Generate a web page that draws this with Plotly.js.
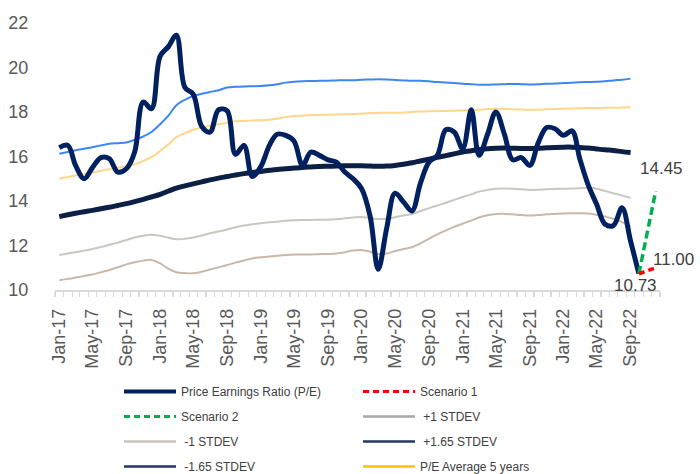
<!DOCTYPE html>
<html>
<head>
<meta charset="utf-8">
<script src="https://cdn.plot.ly/plotly-3.0.1.min.js"></script>
<style>html,body{margin:0;padding:0;background:#fff;}#chart{width:700px;height:474px;}</style>
</head>
<body>
<div id="chart"></div>
<script>
// Monthly categories Jan-17 .. Dec-22
const months = [];
for (let i = 0; i < 72; i++) {
  const yr = 2017 + Math.floor(i / 12), mo = (i % 12) + 1;
  months.push(yr + '-' + String(mo).padStart(2, '0') + '-01');
}
const tickMonths = months.filter((m, i) => i % 4 === 0 && i <= 68);

// Price Earnings Ratio (P/E), Jan-17 .. Oct-22
const pe = [16.4, 16.5, 15.6, 15.0, 15.5, 15.95, 15.9, 15.3, 15.45, 16.2, 18.45, 18.15,
  20.5, 20.95, 21.45, 19.1, 18.8, 17.35, 17.1, 18.1, 18.05, 16.1, 16.5, 15.1,
  15.55, 16.5, 17.0, 16.95, 16.7, 15.6, 16.2, 16.05, 15.85, 15.75, 15.3, 15.0,
  14.55, 13.3, 10.93, 12.8, 14.35, 13.95, 13.55, 14.8, 15.75, 16.05, 17.2, 17.1,
  16.35, 18.1, 16.05, 17.0, 18.0, 17.0, 15.85, 15.95, 15.6, 16.6, 17.3, 17.25,
  16.95, 17.15, 15.9, 14.7, 13.85, 12.95, 12.9, 13.7, 12.2, 10.73];

// P/E Average 5 years, Jan-17 .. Sep-22
const avg5y = [13.30, 13.38, 13.45, 13.52, 13.58, 13.65, 13.72, 13.80, 13.88, 13.97, 14.07, 14.18,
  14.30, 14.45, 14.58, 14.68, 14.77, 14.86, 14.95, 15.03, 15.10, 15.17, 15.23, 15.28,
  15.33, 15.38, 15.42, 15.45, 15.48, 15.51, 15.53, 15.55, 15.56, 15.57, 15.58, 15.58,
  15.58, 15.57, 15.56, 15.57, 15.60, 15.65, 15.72, 15.80, 15.88, 15.96, 16.04, 16.12,
  16.20, 16.26, 16.31, 16.35, 16.37, 16.38, 16.37, 16.36, 16.36, 16.37, 16.39, 16.41,
  16.42, 16.42, 16.40, 16.38, 16.34, 16.30, 16.27, 16.22, 16.18];

// +1 STDEV
const plus1 = [15.0, 15.08, 15.15, 15.22, 15.28, 15.35, 15.43, 15.5, 15.56, 15.65, 15.8, 15.97,
  16.25, 16.55, 16.87, 17.05, 17.2, 17.3, 17.38, 17.45, 17.52, 17.58, 17.6, 17.62,
  17.63, 17.65, 17.7, 17.77, 17.82, 17.84, 17.86, 17.87, 17.88, 17.89, 17.9, 17.91,
  17.93, 17.95, 17.96, 17.97, 17.97, 17.98, 18.0, 18.02, 18.03, 18.04, 18.05, 18.06,
  18.07, 18.08, 18.1, 18.13, 18.15, 18.14, 18.12, 18.11, 18.1, 18.1, 18.12, 18.14,
  18.15, 18.16, 18.17, 18.18, 18.18, 18.19, 18.19, 18.2, 18.2];

// +1.65 STDEV
const plus165 = [16.12, 16.2, 16.28, 16.35, 16.42, 16.5, 16.57, 16.6, 16.63, 16.75, 16.9, 17.1,
  17.45, 17.85, 18.3, 18.55, 18.72, 18.82, 18.9, 18.98, 19.1, 19.13, 19.15, 19.16,
  19.17, 19.2, 19.25, 19.32, 19.36, 19.38, 19.39, 19.4, 19.41, 19.42, 19.43, 19.43,
  19.45, 19.46, 19.47, 19.46, 19.44, 19.42, 19.4, 19.4, 19.38, 19.35, 19.33, 19.3,
  19.27, 19.25, 19.23, 19.22, 19.24, 19.25, 19.26, 19.25, 19.24, 19.25, 19.27, 19.28,
  19.3, 19.32, 19.34, 19.35, 19.36, 19.38, 19.42, 19.45, 19.5];

// -1 STDEV
const minus1 = [11.57, 11.64, 11.7, 11.77, 11.84, 11.93, 12.03, 12.13, 12.25, 12.36, 12.44, 12.48,
  12.44, 12.35, 12.28, 12.3, 12.36, 12.45, 12.55, 12.63, 12.72, 12.82, 12.9, 12.95,
  13.0, 13.04, 13.07, 13.11, 13.14, 13.15, 13.15, 13.16, 13.16, 13.18, 13.22, 13.26,
  13.28, 13.24, 13.19, 13.2, 13.27, 13.35, 13.42, 13.55, 13.68, 13.8, 13.92, 14.05,
  14.18, 14.3, 14.42, 14.5, 14.55, 14.56, 14.55, 14.53, 14.5, 14.51, 14.53, 14.54,
  14.55, 14.56, 14.57, 14.59, 14.55, 14.45, 14.35, 14.25, 14.14];

// -1.65 STDEV
const minus165 = [10.44, 10.5, 10.56, 10.63, 10.7, 10.8, 10.9, 11.02, 11.15, 11.25, 11.32, 11.35,
  11.2, 10.95, 10.8, 10.76, 10.75, 10.82, 10.92, 11.02, 11.12, 11.23, 11.33, 11.42,
  11.47, 11.51, 11.54, 11.57, 11.59, 11.6, 11.6, 11.61, 11.62, 11.64, 11.7, 11.78,
  11.8, 11.72, 11.62, 11.64, 11.75, 11.84, 11.92, 12.1, 12.3, 12.5, 12.68, 12.84,
  12.98, 13.12, 13.26, 13.36, 13.42, 13.42, 13.4, 13.37, 13.35, 13.37, 13.4, 13.42,
  13.44, 13.45, 13.45, 13.44, 13.38, 13.3, 13.2, 13.05, 12.85];

// Scenarios, Oct-22 -> Dec-22
const scenMonths = [months[69], months[71]];
const scenario1 = [10.73, 11.00];
const scenario2 = [10.73, 14.45];

const FONT = 'Liberation Sans, Arial, sans-serif';
const xs = arr => months.slice(0, arr.length);

function band(y, color) {
  return {x: xs(y), y: y, type: 'scatter', mode: 'lines', showlegend: false, hoverinfo: 'skip',
    line: {color: color, width: 2, shape: 'spline'}};
}

const traces = [
  band(minus165, '#c9b8a8'),
  band(minus1, '#cac6c0'),
  band(plus1, '#ffd68c'),
  band(plus165, '#3d87f0'),
  {x: xs(avg5y), y: avg5y, type: 'scatter', mode: 'lines', showlegend: false,
    line: {color: '#0c1f45', width: 5, shape: 'spline'}},
  {x: xs(pe), y: pe, type: 'scatter', mode: 'lines', showlegend: false,
    line: {color: '#002060', width: 5, shape: 'spline'}},
  {x: scenMonths, y: scenario2, type: 'scatter', mode: 'lines', showlegend: false,
    line: {color: '#00b050', width: 3.5, dash: '8px,4px'}},
  {x: scenMonths, y: scenario1, type: 'scatter', mode: 'lines', showlegend: false,
    line: {color: '#ff0000', width: 3.5, dash: '6px,4px'}}
];

// Legend entries (as shown in the legend box)
const legendItems = [
  ['Price Earnings Ratio (P/E)', '#002060', 4, 'solid', 'legend'],
  ['Scenario 2', '#00b050', 3, '6px,4px', 'legend'],
  [' -1 STDEV', '#c8c4bc', 2.5, 'solid', 'legend'],
  [' -1.65 STDEV', '#1f3864', 2.5, 'solid', 'legend'],
  ['Scenario 1', '#ff0000', 3, '6px,4px', 'legend2'],
  [' +1 STDEV', '#a6a6a6', 2.5, 'solid', 'legend2'],
  [' +1.65 STDEV', '#1f3864', 2.5, 'solid', 'legend2'],
  ['P/E Average 5 years', '#ffc000', 2.5, 'solid', 'legend2']
];
legendItems.forEach((it, k) => {
  traces.push({x: [null], y: [null], type: 'scatter', mode: 'lines', name: it[0],
    legend: it[4], legendgroup: 'g' + k, showlegend: true,
    line: {color: it[1], width: it[2], dash: it[3]}});
});

const last = pe.length - 1;
const annFont = {family: FONT, size: 17, color: '#404040'};
const annotations = [
  {x: months[last], y: pe[last], text: pe[last].toFixed(2), showarrow: false,
    xanchor: 'center', yanchor: 'top', xshift: -3, yshift: 0, font: annFont},
  {x: scenMonths[1], y: scenario2[1], text: scenario2[1].toFixed(2), showarrow: false,
    xanchor: 'center', yanchor: 'bottom', xshift: 6, yshift: 11, font: annFont},
  {x: scenMonths[1], y: scenario1[1], text: scenario1[1].toFixed(2), showarrow: false,
    xanchor: 'left', yanchor: 'middle', xshift: -5, yshift: 8, font: annFont}
];

const PL = 55, PW = 605;
const legendBase = {orientation: 'v', xref: 'paper', yref: 'container', xanchor: 'left', yanchor: 'top',
  y: 1 - 377 / 474, bgcolor: 'rgba(0,0,0,0)', borderwidth: 0, itemwidth: 52, tracegroupgap: 6,
  font: {family: FONT, size: 12, color: '#404040'}};

const layout = {
  width: 700, height: 474,
  margin: {l: PL, r: 700 - PL - PW, t: 23, b: 184},
  paper_bgcolor: '#ffffff', plot_bgcolor: '#ffffff',
  showlegend: true,
  xaxis: {
    type: 'date',
    range: ['2016-12-16 12:00', '2022-12-16 12:00'],
    tickmode: 'array', tickvals: tickMonths, tickformat: '%b-%y',
    tickangle: -90, ticks: 'outside', ticklen: 10, tickcolor: 'rgba(0,0,0,0)',
    tickfont: {family: FONT, size: 18, color: '#595959'},
    showline: true, linecolor: '#d9d9d9', linewidth: 1.5,
    showgrid: false, zeroline: false,
    minor: {ticks: 'outside', tick0: '2016-12-16 12:00', dtick: 'M1', ticklen: 5, tickcolor: '#d9d9d9', tickwidth: 1.2, showgrid: false}
  },
  yaxis: {
    range: [10, 22], dtick: 2, tick0: 10,
    ticks: 'outside', ticklen: 22, tickcolor: 'rgba(0,0,0,0)',
    tickfont: {family: FONT, size: 18, color: '#595959'},
    showline: false, showgrid: false, zeroline: false
  },
  legend: Object.assign({}, legendBase, {x: (119 - PL) / PW}),
  legend2: Object.assign({}, legendBase, {x: (358 - PL) / PW}),
  annotations: annotations
};

Plotly.newPlot('chart', traces, layout, {displayModeBar: false, staticPlot: true});
</script>
</body>
</html>
